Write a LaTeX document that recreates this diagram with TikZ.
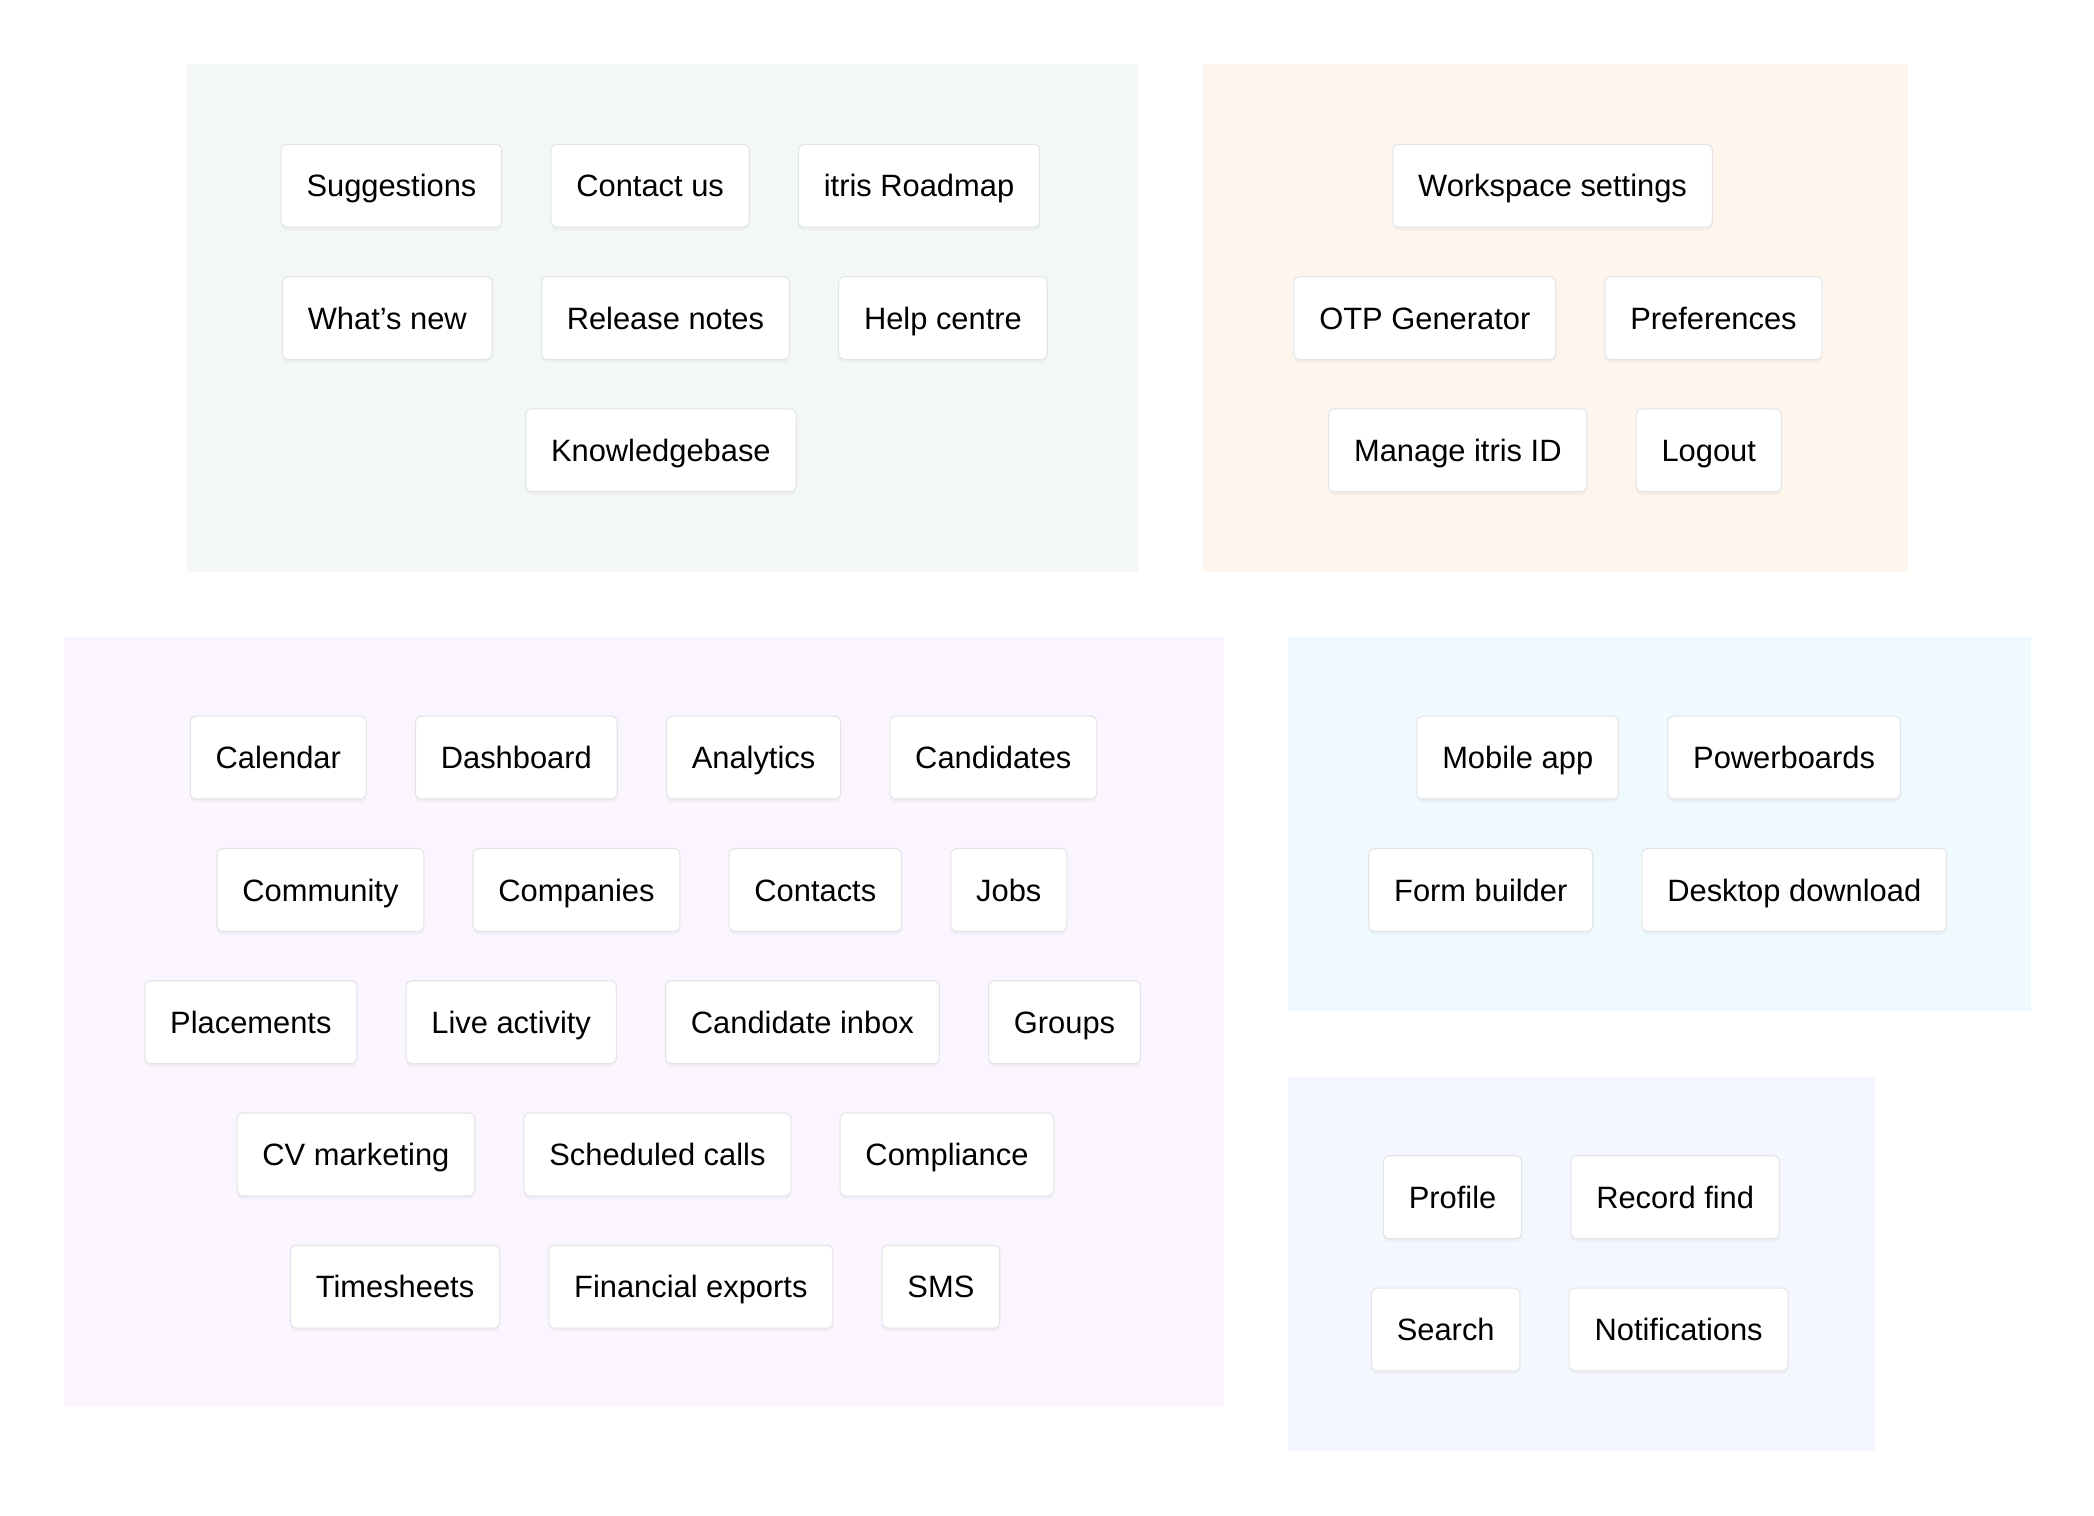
\documentclass[tikz,border=0pt]{standalone}
\usepackage{fontspec}
\setmainfont{Liberation Sans}
\usetikzlibrary{positioning,shadows}

\definecolor{helpbg}{HTML}{F3F8F5}
\definecolor{userbg}{HTML}{FEF5EC}
\definecolor{modbg}{HTML}{FAF5FE}
\definecolor{appbg}{HTML}{EFFAFE}
\definecolor{toolbg}{HTML}{F4F7FE}
\definecolor{boxline}{HTML}{E2E4E8}

\begin{document}
\begin{tikzpicture}[x=1pt,y=-1pt,node distance=36pt,
    menuitem/.style={draw=boxline, line width=0.8pt, fill=white,
      rounded corners=4.5pt, minimum height=62pt, inner xsep=19pt,
      text height=17pt, text depth=0.2pt,
      font=\fontsize{23.1pt}{28pt}\selectfont,
      drop shadow={shadow xshift=0pt, shadow yshift=-2.5pt, opacity=0.06}}]
    \useasboundingbox (0,0) rectangle (1567.2,1134.6);

    % panels
    \fill[helpbg] (140,48) rectangle (852,428);
    \fill[userbg] (900,48) rectangle (1428,428);
    \fill[modbg]  (48,477) rectangle (916,1053);
    \fill[appbg]  (964,477) rectangle (1520,757);
    \fill[toolbg] (964,806) rectangle (1403,1086);

    % help
    \node[menuitem, anchor=west] (sugg) at (210,139) {Suggestions};
    \node[menuitem] (contact) [right=of sugg] {Contact us};
    \node[menuitem] (roadmap) [right=of contact] {itris Roadmap};
    \node[menuitem, anchor=west] (whatsnew) at (211,238) {What’s new};
    \node[menuitem] (release) [right=of whatsnew] {Release notes};
    \node[menuitem] (helpc) [right=of release] {Help centre};
    \node[menuitem, anchor=west] (kb) at (393,337) {Knowledgebase};

    % user
    \node[menuitem, anchor=west] (wsset) at (1042,139) {Workspace settings};
    \node[menuitem, anchor=west] (otp) at (968,238) {OTP Generator};
    \node[menuitem] (prefs) [right=of otp] {Preferences};
    \node[menuitem, anchor=west] (itrisid) at (994,337) {Manage itris ID};
    \node[menuitem] (logout) [right=of itrisid] {Logout};

    % modules
    \node[menuitem, anchor=west] (calendar) at (142,567) {Calendar};
    \node[menuitem] (dashboard) [right=of calendar] {Dashboard};
    \node[menuitem] (analytics) [right=of dashboard] {Analytics};
    \node[menuitem] (candidates) [right=of analytics] {Candidates};
    \node[menuitem, anchor=west] (community) at (162,666) {Community};
    \node[menuitem] (companies) [right=of community] {Companies};
    \node[menuitem] (contacts) [right=of companies] {Contacts};
    \node[menuitem] (jobs) [right=of contacts] {Jobs};
    \node[menuitem, anchor=west] (placements) at (108,765) {Placements};
    \node[menuitem] (live) [right=of placements] {Live activity};
    \node[menuitem] (inbox) [right=of live] {Candidate inbox};
    \node[menuitem] (groups) [right=of inbox] {Groups};
    \node[menuitem, anchor=west] (cvmark) at (177,864) {CV marketing};
    \node[menuitem] (calls) [right=of cvmark] {Scheduled calls};
    \node[menuitem] (compliance) [right=of calls] {Compliance};
    \node[menuitem, anchor=west] (timesheets) at (217,963) {Timesheets};
    \node[menuitem] (finexp) [right=of timesheets] {Financial exports};
    \node[menuitem] (sms) [right=of finexp] {SMS};

    % apps
    \node[menuitem, anchor=west] (mobile) at (1060,567) {Mobile app};
    \node[menuitem] (powerb) [right=of mobile] {Powerboards};
    \node[menuitem, anchor=west] (formb) at (1024,666) {Form builder};
    \node[menuitem] (desktop) [right=of formb] {Desktop download};

    % tools
    \node[menuitem, anchor=west] (profile) at (1035,896) {Profile};
    \node[menuitem] (recfind) [right=of profile] {Record find};
    \node[menuitem, anchor=west] (search) at (1026,995) {Search};
    \node[menuitem] (notif) [right=of search] {Notifications};
\end{tikzpicture}
\end{document}
